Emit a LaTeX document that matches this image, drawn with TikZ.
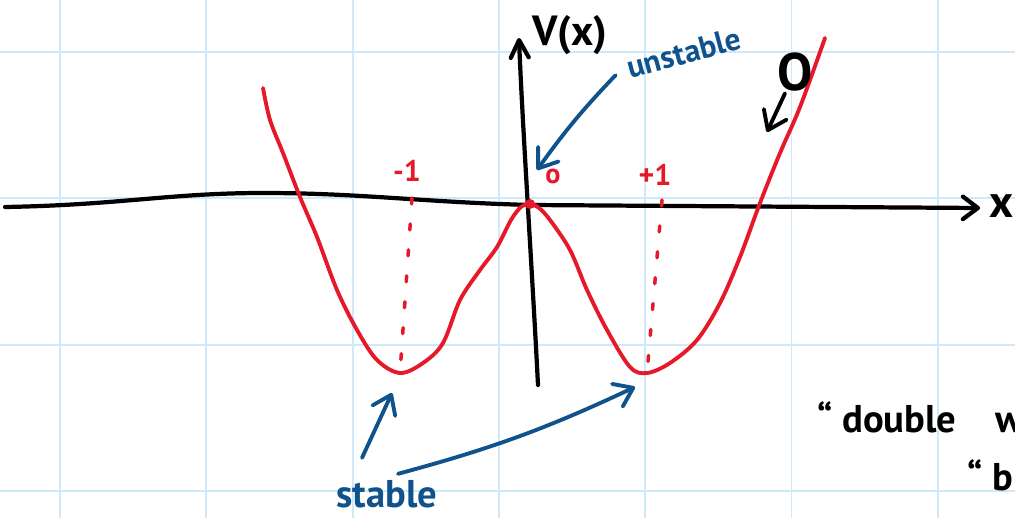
\documentclass[tikz,border=0pt]{standalone}
\usepackage{fontspec}
\setmainfont{PT Sans}
\usetikzlibrary{arrows.meta}
\definecolor{penred}{RGB}{230,25,42}
\definecolor{penblue}{RGB}{15,82,140}
\definecolor{gridblue}{RGB}{205,233,250}

\begin{document}
\begin{tikzpicture}[
  gridline/.style={gridblue, line width=1.1pt},
  axisline/.style={black, line width=2.4pt, line cap=round},
  potential/.style={penred, line width=2.2pt, line cap=round, line join=round},
  guide/.style={penred, line width=2pt, line cap=round, dash pattern=on 0.12cm off 0.4cm},
  pointer/.style={line width=2.2pt, line cap=round, -{Straight Barb[length=3.5mm,width=5mm,round]}},
  handtext/.style={font=\fontsize{#1}{#1}\selectfont\bfseries, inner sep=1pt},
]
  \useasboundingbox (0,0) rectangle (20.3,10.36);
  \clip (0,0) rectangle (20.3,10.36);
  % Squared paper
  \foreach \gx in {0,...,6}
    \draw[gridline] ({1.2+2.926*\gx},0) -- ({1.2+2.926*\gx},10.36);
  \foreach \gy in {0,...,3}
    \draw[gridline] (0,{0.54+2.926*\gy}) -- (20.3,{0.54+2.926*\gy});
  % Axes
  \draw[axisline, -{Straight Barb[length=3mm,width=4.5mm,round]}]
    (0.1,6.22) .. controls (2.4,6.26) and (3.4,6.5) .. (5.26,6.5)
    .. controls (7.2,6.5) and (8.4,6.32) .. (10.6,6.26) -- (19.6,6.2);
  \draw[axisline, -{Straight Barb[length=3.5mm,width=3.6mm,round]}]
    (10.76,2.66) .. controls (10.64,5) and (10.44,8) .. (10.38,9.6);
  \node[handtext=24] (vlabel) at (11.4,9.66) {V(x)};
  \node[handtext=26, anchor=west] (xlabel) at (19.74,6.24) {x};
  % Critical points
  \coordinate (peak) at (10.6,6.28);
  \coordinate (lmin) at (8.0,2.9);
  \coordinate (rmin) at (12.94,2.9);
  \coordinate (otip) at (15.34,7.72);
  % Dotted drops to the wells
  \draw[guide] (8.24,6.4) -- (lmin);
  \draw[guide] (13.24,6.36) -- (rmin);
  % Double well potential
  \draw[potential] plot[smooth, tension=0.55] coordinates {
    (5.26,8.60) (5.40,7.96) (5.66,7.30) (6.00,6.42) (6.34,5.62) (6.74,4.56)
    (7.14,3.76) (7.54,3.16) (8.00,2.90) (8.46,3.10) (8.86,3.50) (9.20,4.36)
    (9.60,4.96) (9.94,5.42) (10.22,5.96) (10.42,6.22) (10.60,6.28) (10.78,6.2)
    (11.00,5.96) (11.40,5.36)
    (11.74,4.56) (12.14,3.76) (12.60,3.02) (12.94,2.90) (13.40,3.10) (13.94,3.56)
    (14.40,4.30) (14.80,5.22) (15.20,6.30) (15.60,7.30) (16.00,8.22) (16.50,9.60)};
  \fill[penred] (peak) circle (0.1);
  % Labels
  \node[handtext=17, penred] (mone) at (8.14,6.94) {-1};
  \node[handtext=17, penred] (pone) at (13.1,6.86) {+1};
  \node[handtext=16, penred] (zero) at (11.06,6.84) {o};
  \node[handtext=30] (olabel) at (15.9,8.92) {O};
  \node[handtext=18, penblue, rotate=15] (unst) at (13.68,9.3) {unstable};
  \node[handtext=22, penblue, anchor=base] (stab) at (7.74,0.22) {stable};
  \node[handtext=22, anchor=base west] (dbl) at (16.3,1.72) {\textquotedblleft\ double\quad w};
  \node[handtext=22, anchor=base west] (bis) at (19.3,0.56) {\textquotedblleft\ b};
  % Pointers
  \draw[pointer, penblue] ([shift={(-0.2,-0.13)}]unst.west) to[bend right=4] ([shift={(0.14,0.68)}]peak);
  \draw[pointer] ([xshift=-0.2cm]olabel.south) -- (otip);
  \draw[pointer, penblue] ([shift={(-0.5,0.4)}]stab.north) -- ([shift={(-0.16,-0.4)}]lmin);
  \draw[pointer, penblue] ([shift={(0.22,0.08)}]stab.north) to[bend right=5] ([shift={(-0.24,-0.28)}]rmin);
\end{tikzpicture}
\end{document}
